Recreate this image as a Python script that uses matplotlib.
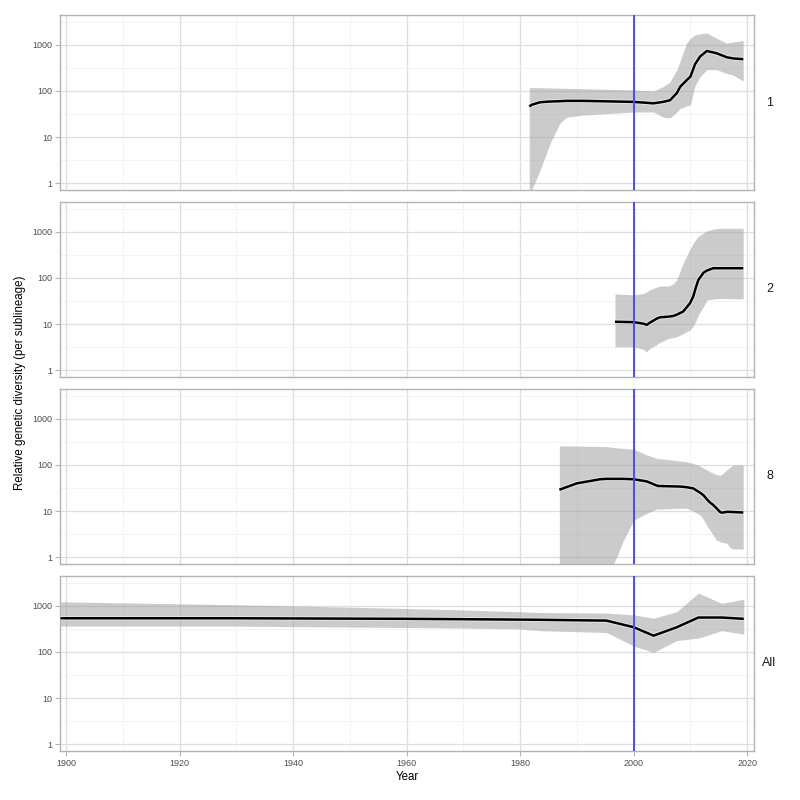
import numpy as np
import matplotlib
matplotlib.use("Agg")
import matplotlib.pyplot as plt
import matplotlib.patheffects as pe

plt.rcParams['font.family'] = ['Liberation Sans', 'DejaVu Sans']

# sublineage 1
years_1 = [1981.6, 1982.0, 1983.5, 1985.3, 1987.0, 1988.2, 1991.1, 2000.0, 2003.5, 2005.2, 2006.4,
           2007.6, 2008.2, 2009.3, 2010.0, 2010.8, 2011.7, 2012.9, 2014.6, 2016.4, 2017.5, 2019.3]
median_1 = [46, 50, 57, 59, 60, 61, 61, 58, 54, 58, 63,
            90, 124, 170, 205, 380, 560, 740, 660, 540, 510, 490]
upper_1 = [118, 118, 118, 116, 115, 114, 112, 105, 100, 125, 158,
           290, 450, 1090, 1400, 1650, 1750, 1800, 1400, 1090, 1170, 1240]
lower_1 = [0.2, 0.7, 1.9, 7.4, 20, 27, 30, 35, 35, 27, 26,
           35, 42, 47, 50, 130, 205, 290, 290, 240, 222, 165]

# sublineage 2
years_2 = [1996.7, 2000.0, 2001.7, 2002.3, 2002.9, 2004.0, 2004.6, 2006.2, 2007.0, 2007.6,
           2008.7, 2009.9, 2010.5, 2011.0, 2011.4, 2012.3, 2012.9, 2014.0, 2015.2, 2019.3]
median_2 = [11.2, 11, 10.2, 9.6, 10.8, 13, 14, 14.5, 15, 16,
            18.6, 28, 40, 65, 91, 130, 145, 163, 163, 163]
upper_2 = [45, 43, 46, 50, 56, 63, 67, 67, 75, 91,
           210, 420, 570, 700, 800, 940, 1050, 1150, 1200, 1200]
lower_2 = [3.2, 3.2, 2.8, 2.5, 3.0, 3.5, 4.0, 4.9, 5.1, 5.3,
           6.2, 7.4, 9.0, 12, 16, 24, 33, 35, 36, 35]

# sublineage 8
years_8 = [1986.9, 1990.0, 1994.1, 1995.2, 1996.0, 1996.4, 1997.0, 1998.2, 2000.0, 2002.3,
           2004.0, 2004.3, 2008.2, 2009.3, 2010.5, 2011.7, 2012.3, 2012.9, 2013.4, 2014.0,
           2014.6, 2015.2, 2015.5, 2016.4, 2017.0, 2017.5, 2019.3]
median_8 = [29, 40, 49, 50, 50, 50, 50, 50, 49, 44,
            36, 35, 34, 33, 31, 25, 22, 18, 15.5, 13.6,
            11.5, 9.6, 9.2, 9.6, 9.6, 9.5, 9.3]
upper_8 = [260, 258, 252, 250, 245, 240, 235, 230, 220, 165,
           140, 138, 122, 118, 108, 95, 85, 78, 72, 66,
           62, 60, 62, 78, 90, 100, 100]
lower_8 = [0.1, 0.1, 0.1, 0.1, 0.4, 0.7, 1.0, 2.3, 6.3, 8.9,
           11, 11, 11.5, 11.5, 10, 8.2, 6.5, 4.8, 3.9, 3.0,
           2.3, 2.2, 2.1, 2.0, 1.6, 1.5, 1.5]

# all sublineages
years_all = [1899, 1930, 1940, 1960, 1970, 1979.4, 1983.5, 1995.2, 2000.0, 2003.5,
             2007.6, 2011.4, 2015.5, 2019.4]
median_all = [540, 540, 535, 525, 515, 505, 500, 480, 345, 226,
              345, 560, 560, 525]
upper_all = [1230, 1060, 1000, 880, 820, 750, 720, 700, 640, 540,
             750, 1900, 1140, 1400]
lower_all = [365, 365, 355, 340, 330, 318, 290, 265, 135, 98,
             177, 200, 290, 245]

panels = [
    ("1", years_1, median_1, lower_1, upper_1),
    ("2", years_2, median_2, lower_2, upper_2),
    ("8", years_8, median_8, lower_8, upper_8),
    ("All", years_all, median_all, lower_all, upper_all),
]

fig = plt.figure(figsize=(8, 8), dpi=100)

left, right = 60 / 800, 754 / 800
tops = [15, 202, 389, 576]
height = 175

for i, (label, yr, med, lo, hi) in enumerate(panels):
    top = tops[i]
    ax = fig.add_axes([left, 1 - (top + height) / 800, right - left, height / 800])
    ax.set_yscale('log')
    ax.set_xlim(1898.9, 2021.2)
    ax.set_ylim(10 ** -0.15, 10 ** 3.65)

    # grid
    for x in range(1900, 2021, 20):
        ax.axvline(x, color='#dedede', lw=0.9, zorder=0)
    for x in range(1910, 2021, 20):
        ax.axvline(x, color='#efefef', lw=0.5, zorder=0)
    for y in [1, 10, 100, 1000]:
        ax.axhline(y, color='#dedede', lw=0.9, zorder=0)
    for y in [10 ** 0.5, 10 ** 1.5, 10 ** 2.5, 10 ** 3.5]:
        ax.axhline(y, color='#efefef', lw=0.5, zorder=0)

    ax.fill_between(yr, lo, hi, color=(0.6, 0.6, 0.6), alpha=0.5, lw=0, zorder=1)
    ax.plot(yr, med, color='black', lw=1.8, zorder=3, solid_capstyle='butt',
            path_effects=[pe.Stroke(linewidth=3.2, foreground='white', alpha=0.5), pe.Normal()])
    ax.axvline(2000, color='#4a4aff', lw=1.4, zorder=4)

    ax.set_yticks([1, 10, 100, 1000])
    ax.set_yticklabels(['1', '10', '100', '1000'])
    ax.minorticks_off()
    ax.set_xticks(range(1900, 2021, 20))
    if i < 3:
        ax.set_xticklabels([])
        ax.tick_params(axis='x', length=0)
    else:
        ax.tick_params(axis='x', length=3.6, color='#b3b3b3', labelsize=6.5, labelcolor='#4d4d4d', pad=2.4)
    ax.tick_params(axis='y', length=3.6, color='#b3b3b3', labelsize=6.5, labelcolor='#4d4d4d', pad=2.2)
    for s in ax.spines.values():
        s.set_color('#b3b3b3')
        s.set_linewidth(1.0)

    ax.text(1.0223, 0.5, label, transform=ax.transAxes, ha='center', va='center',
            fontsize=9, color='#1a1a1a')

fig.text(20 / 800, 1 - 383 / 800, "Relative genetic diversity (per sublineage)",
         rotation=90, ha='center', va='center', fontsize=8.3, color='black')
fig.text(407 / 800, 1 - 777.5 / 800, "Year", ha='center', va='center', fontsize=8.3, color='black')

fig.savefig("out.png", dpi=100)
